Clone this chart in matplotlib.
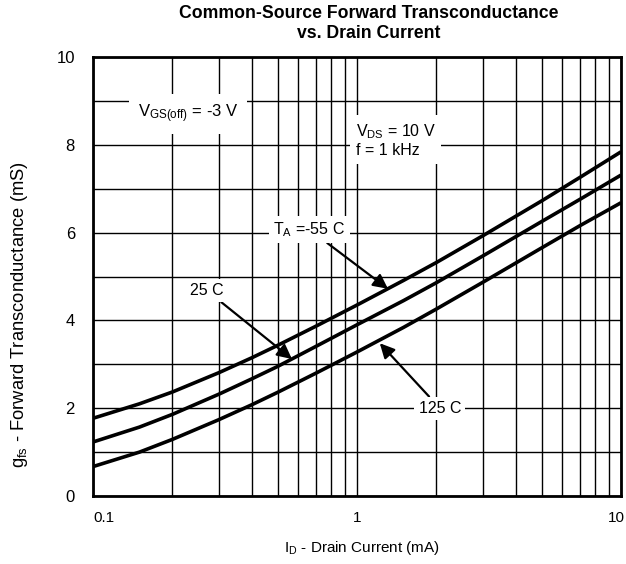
import matplotlib
matplotlib.use("Agg")
import matplotlib.pyplot as plt
import numpy as np
from matplotlib.ticker import FixedLocator, NullFormatter, LogLocator
import matplotlib.transforms as mtransforms

plt.rcParams['font.family'] = ['Liberation Sans', 'DejaVu Sans']
plt.rcParams['mathtext.default'] = 'regular'

drain_current = [0.1, 0.15, 0.2, 0.3, 0.4, 0.5, 0.7, 1, 1.5, 2, 3, 5, 7, 10]
gfs_m55 = [1.77, 2.10, 2.37, 2.81, 3.15, 3.43, 3.87, 4.35, 4.91, 5.32, 5.93, 6.72, 7.26, 7.84]
gfs_25 = [1.23, 1.57, 1.86, 2.32, 2.67, 2.95, 3.41, 3.90, 4.45, 4.86, 5.47, 6.25, 6.76, 7.31]
gfs_125 = [0.67, 1.00, 1.29, 1.74, 2.08, 2.36, 2.80, 3.28, 3.84, 4.26, 4.87, 5.65, 6.16, 6.68]

x_ticks = [0.1, 1, 10]
x_tick_labels = ['0.1', '1', '10']
y_ticks = [0, 2, 4, 6, 8, 10]

fig = plt.figure(figsize=(6.26, 5.64), dpi=100)
ax = fig.add_axes([93/626, (564-496)/564, (621-93)/626, (496-57)/564])

for ys in (gfs_m55, gfs_25, gfs_125):
    ax.plot(drain_current, ys, color='black', lw=2.6, zorder=3,
            solid_capstyle='butt', solid_joinstyle='round')

ax.set_xscale('log')
ax.set_xlim(0.1, 10)
ax.set_ylim(0, 10)
ax.xaxis.set_major_locator(FixedLocator(x_ticks))
ax.set_xticklabels(x_tick_labels)
ax.xaxis.set_minor_locator(LogLocator(base=10, subs=np.arange(2, 10)))
ax.xaxis.set_minor_formatter(NullFormatter())
ax.set_yticks(y_ticks)
ax.yaxis.set_minor_locator(FixedLocator(np.arange(1, 10)))
ax.grid(which='both', axis='both', color='black', lw=1.0, zorder=1)
ax.tick_params(which='both', length=0)
ax.tick_params(axis='x', pad=11, labelsize=11)
ax.tick_params(axis='y', pad=13, labelsize=12)
for s in ax.spines.values():
    s.set_linewidth(2.0)
ax.set_axisbelow(True)

xl = ax.get_xticklabels()
xl[0].set_ha('left')
xl[-1].set_ha('right')
xl[-1].set_transform(xl[-1].get_transform() + mtransforms.ScaledTranslation(4/100, 0, fig.dpi_scale_trans))

fig.text(362/626, 1 - 548/564, 'I$_D$ - Drain Current (mA)', fontsize=11,
         ha='center', va='center')
fig.text(20/626, 1 - 315/564, 'g$_{fs}$ - Forward Transconductance (mS)', fontsize=13.2,
         ha='center', va='center', rotation=90)
fig.text(369/626, 1 - 14/564, 'Common-Source Forward Transconductance', fontsize=12.7,
         fontweight='bold', ha='center', va='center')
fig.text(369/626, 1 - 34/564, 'vs. Drain Current', fontsize=12.7,
         fontweight='bold', ha='center', va='center')

ax.text(0.229, 8.7, 'V$_{GS(off)}$ = -3 V', fontsize=12, ha='center', va='center',
        bbox=dict(facecolor='white', edgecolor='none', pad=6), zorder=4)
ax.text(0.99, 8.1, 'V$_{DS}$ = 10 V\nf = 1 kHz', fontsize=11.5, ha='left', va='center',
        bbox=dict(facecolor='white', edgecolor='none', pad=4), zorder=4, linespacing=1.15)

box = dict(facecolor='white', edgecolor='none', pad=3)
arrow = dict(arrowstyle='-|>', color='black', lw=1.6, mutation_scale=22, shrinkA=0, shrinkB=0)
ax.annotate('T$_A$ =-55 C', xy=(1.31, 4.72), xytext=(0.66, 6.07), fontsize=11.5,
            ha='center', va='center', bbox=box, arrowprops=arrow, zorder=4)
ax.annotate('25 C', xy=(0.567, 3.12), xytext=(0.27, 4.68), fontsize=11.5,
            ha='center', va='center', bbox=box, arrowprops=arrow, zorder=4)
ax.annotate('125 C', xy=(1.22, 3.48), xytext=(2.06, 2.0), fontsize=11.5,
            ha='center', va='center', bbox=box, arrowprops=arrow, zorder=4)

fig.savefig('out.png', dpi=100)
